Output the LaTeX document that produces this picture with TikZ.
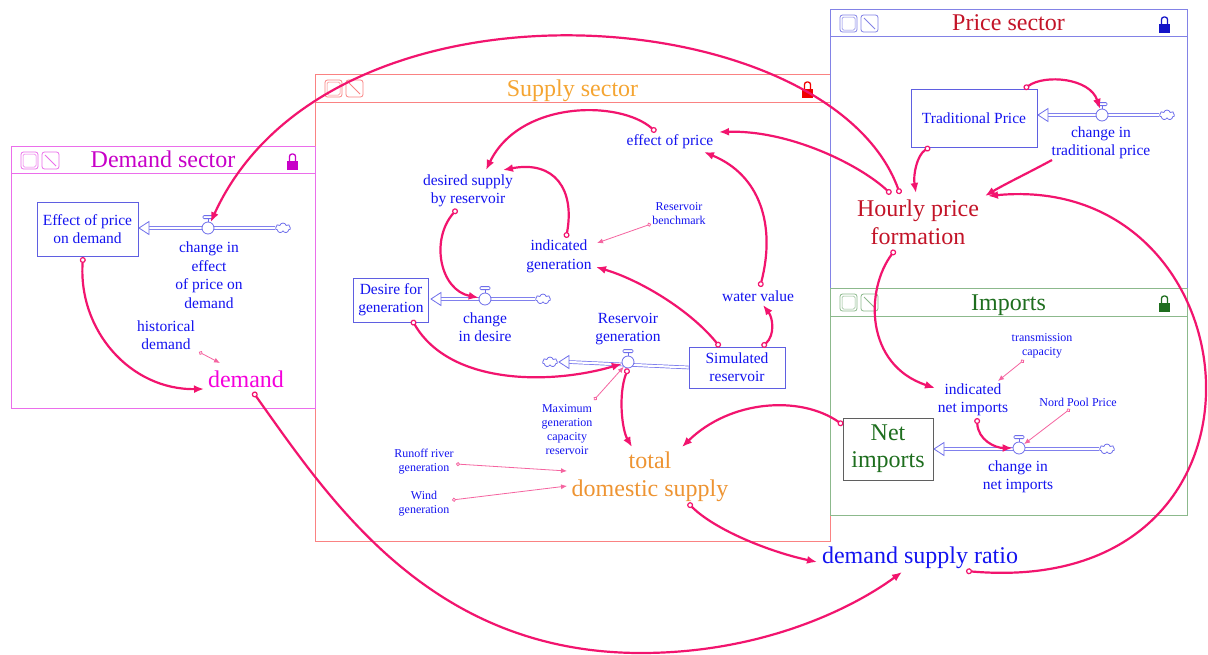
\documentclass[tikz,border=0pt]{standalone}
\usepackage{fontspec}
\setmainfont{Liberation Serif}
\usetikzlibrary{arrows.meta,shapes.symbols}
\definecolor{pinkc}{RGB}{242,20,110}
\definecolor{pinklt}{RGB}{245,100,160}
\definecolor{bluec}{RGB}{20,20,240}
\definecolor{pipec}{RGB}{110,110,235}
\definecolor{boxc}{RGB}{95,95,225}
\definecolor{demfr}{RGB}{235,110,235}
\definecolor{demti}{RGB}{200,0,200}
\definecolor{demtx}{RGB}{245,0,220}
\definecolor{supfr}{RGB}{250,130,130}
\definecolor{supti}{RGB}{245,165,50}
\definecolor{supor}{RGB}{238,148,50}
\definecolor{supl}{RGB}{240,0,0}
\definecolor{prifr}{RGB}{130,130,230}
\definecolor{priti}{RGB}{195,20,40}
\definecolor{pril}{RGB}{20,20,200}
\definecolor{impfr}{RGB}{140,185,140}
\definecolor{impti}{RGB}{30,110,30}
\definecolor{nibox}{RGB}{95,95,95}

\newcommand\mysector[9]{%
  \draw[#6, line width=0.9pt, fill=white] (#1,#2) rectangle (#3,#4);
  \draw[#6, line width=0.9pt] (#1,#5) -- (#3,#5);
  \node[text=#7, font=\fontsize{24}{28}\selectfont, inner sep=0pt, anchor=base] at ({(#1+#3)/2},{#5-6}) {#8};
  \draw[#6, line width=0.8pt, rounded corners=2.5pt] ({#1+10},{#2+6}) rectangle ++(17,17);
  \draw[#6, line width=0.5pt, rounded corners=1.5pt] ({#1+12},{#2+8}) rectangle ++(13,13);
  \draw[#6, line width=0.8pt, rounded corners=2.5pt] ({#1+31},{#2+6}) rectangle ++(17,17);
  \draw[#6, line width=0.8pt] ({#1+34},{#2+9}) -- ++(11,11);
  \fill[#9] ({#3-28},{#2+15}) rectangle ++(11,9);
  \draw[#9, line width=1.3pt, rounded corners=2.5pt] ({#3-25.5},{#2+15}) -- ++(0,-7) -- ++(6,0) -- ++(0,7);
}
\newcommand\valvehandle[1]{%
  \draw[pipec, line width=0.8pt] (#1.north) -- ++(0,-3);
  \draw[pipec, line width=0.8pt, fill=white, rounded corners=1pt] ([xshift=-5pt,yshift=3pt]#1.north) rectangle ([xshift=5pt,yshift=6pt]#1.north);
}
\newcommand\pipetip[1]{%
  \draw[pipec, line width=0.8pt, fill=white] (#1) -- ++(10,-6.5) -- ++(0,13) -- cycle;
}

\begin{document}
\begin{tikzpicture}[x=1pt,y=-1pt,
  conn/.style={draw=pinkc, line width=2.2pt, {Circle[length=6pt,width=6pt,fill=white,line width=1.2pt]}-{Latex[length=10pt,width=8pt]}},
  conna/.style={draw=pinkc, line width=2.2pt, -{Latex[length=10pt,width=8pt]}},
  thinc/.style={draw=pinklt, line width=0.8pt, {Circle[open,length=4pt,width=4pt]}-{Latex[length=6pt,width=5pt]}},
  lab/.style={text=bluec, font=\fontsize{15.5}{18.5}\selectfont, align=center, inner sep=0pt},
  small/.style={text=bluec, font=\fontsize{12}{14}\selectfont, align=center, inner sep=0pt},
  big/.style={font=\fontsize{24}{28.5}\selectfont, align=center, inner sep=0pt},
  stock/.style={draw=boxc, line width=0.8pt, fill=white, text=bluec, font=\fontsize{15.5}{18}\selectfont, align=center, inner sep=2pt},
  valve/.style={circle, draw=pipec, fill=white, line width=0.8pt, minimum size=12pt, inner sep=0pt},
  cloudn/.style={cloud, cloud puffs=7, draw=pipec, fill=white, line width=0.8pt, minimum width=15pt, minimum height=10pt, inner sep=0pt},
  pipe/.style={draw=pipec, line width=0.7pt, double=white, double distance=2.2pt}
]
\useasboundingbox (0,0) rectangle (1208,654);
\fill[white] (0,0) rectangle (1208,654);

% sectors
\mysector{315}{74}{830}{541}{102}{supfr}{supti}{Supply sector}{supl}
\mysector{11}{146}{315}{408}{173}{demfr}{demti}{Demand sector}{demti}
\mysector{830}{9}{1187}{288}{36}{prifr}{priti}{Price sector}{pril}
\mysector{830}{288}{1187}{515}{316}{impfr}{impti}{Imports}{impti}

% ---------- Demand sector ----------
\node[stock, minimum width=101pt, minimum height=54pt] (epd) at (87.5,229) {Effect of price\\on demand};
\node[cloudn] (cepd) at (283,228) {};
\draw[pipe] (cepd.west) -- (149,228);
\coordinate (tepd) at (139,228);
\pipetip{tepd}
\node[valve] (vepd) at (208,228) {};
\valvehandle{vepd}
\node[lab] (lepd) at (209,275) {change in\\effect\\of price on\\demand};
\node[lab] (hist) at (166,335) {historical\\demand};
\node[big, text=demtx] (dem) at (246,379) {demand};

% ---------- Supply sector ----------
\node[lab] (eop) at (670,142) {effect of price};
\node[lab] (dsr) at (468,191) {desired supply\\by reservoir};
\node[small] (rb) at (679,214) {Reservoir\\benchmark};
\node[lab] (ig) at (559,256.5) {indicated\\generation};
\node[lab] (wv) at (758,296) {water value};
\node[stock, minimum width=75pt, minimum height=44pt] (dfg) at (391,300) {Desire for\\generation};
\node[cloudn] (cdfg) at (543,299) {};
\draw[pipe] (cdfg.west) -- (441,299);
\coordinate (tdfg) at (431,299);
\pipetip{tdfg}
\node[valve] (vdfg) at (485,299) {};
\valvehandle{vdfg}
\node[lab] (lcd) at (485,327) {change\\in desire};
\node[lab] (lrg) at (628,329) {Reservoir\\generation};
\node[stock, minimum width=96pt, minimum height=41pt] (sr) at (737,367.5) {Simulated\\reservoir};
\node[cloudn] (crg) at (550,362) {};
\draw[pipe] (sr.west) -- (569,362);
\coordinate (trg) at (559,362);
\pipetip{trg}
\node[valve] (vrg) at (628,362) {};
\valvehandle{vrg}
\node[small] (mgc) at (567,429.5) {Maximum\\generation\\capacity\\reservoir};
\node[big, text=supor] (tds) at (650,477) {total\\domestic supply};
\node[small] (rrg) at (424,462) {Runoff river\\generation};
\node[small] (wg) at (424,504) {Wind\\generation};

% ---------- Price sector ----------
\node[stock, minimum width=126pt, minimum height=58pt] (tp) at (974,118) {Traditional Price};
\node[cloudn] (ctp) at (1167,115) {};
\draw[pipe] (ctp.west) -- (1048,115);
\coordinate (ttp) at (1038,115);
\pipetip{ttp}
\node[valve] (vtp) at (1102,115) {};
\valvehandle{vtp}
\node[lab] (lctp) at (1101,143) {change in\\traditional price};
\node[big, text=priti] (hpf) at (918,222.5) {Hourly price\\formation};

% ---------- Imports ----------
\node[small] (tc) at (1042,346) {transmission\\capacity};
\node[lab] (inm) at (973,400) {indicated\\net imports};
\node[small] (npp) at (1078,402) {Nord Pool Price};
\node[stock, draw=nibox, text=impti, font=\fontsize{24}{27}\selectfont, minimum width=90pt, minimum height=62pt] (ni) at (888,449) {Net\\imports};
\node[cloudn] (cni) at (1107,449) {};
\draw[pipe] (cni.west) -- (944,449);
\coordinate (tni) at (934,449);
\pipetip{tni}
\node[valve] (vni) at (1019,448) {};
\valvehandle{vni}
\node[lab] (lcni) at (1018,477) {change in\\net imports};

\node[big, text=bluec] (dsrt) at (920,558) {demand supply ratio};

% ---------- connector end points ----------
\coordinate (hpf-a) at (900,194);
\coordinate (hpf-b) at (891,194);
\coordinate (hpf-c) at (916,193);
\coordinate (hpf-d) at (985,196);
\coordinate (hpf-e) at (988,196);
\coordinate (hpf-f) at (895,250);
\coordinate (eop-a) at (719,132);
\coordinate (eop-b) at (656,132);
\coordinate (eop-c) at (704,152);
\coordinate (tp-a) at (930,147);
\coordinate (tp-b) at (1024,89);
\coordinate (lctp-a) at (1052,160);
\coordinate (inm-a) at (935,388);
\coordinate (inm-b) at (977,418);
\coordinate (inm-c) at (998,381);
\coordinate (tc-a) at (1024,360);
\coordinate (npp-a) at (1070,409);
\coordinate (dsrt-a) at (966,571);
\coordinate (dsrt-b) at (817,562);
\coordinate (dsrt-c) at (902,572);
\coordinate (ni-a) at (843,425);
\coordinate (tds-a) at (682,447);
\coordinate (tds-b) at (688,503);
\coordinate (tds-c) at (632,447);
\coordinate (tds-d) at (567,471);
\coordinate (tds-e) at (567,486);
\coordinate (dem-a) at (253,392);
\coordinate (dem-b) at (204,389);
\coordinate (dem-c) at (220,363);
\coordinate (dsr-a) at (486,170);
\coordinate (dsr-b) at (503,170);
\coordinate (dsr-c) at (457,209);
\coordinate (ig-a) at (566,238);
\coordinate (ig-b) at (597,243);
\coordinate (ig-c) at (596,267);
\coordinate (rb-a) at (651,224);
\coordinate (sr-a) at (720,347);
\coordinate (sr-b) at (762,347);
\coordinate (wv-a) at (763,305);
\coordinate (wv-b) at (760,287);
\coordinate (dfg-a) at (412,320);
\coordinate (mgc-a) at (594,400);
\coordinate (rrg-a) at (456,464);
\coordinate (wg-a) at (452,500);
\coordinate (hist-a) at (199,352);
\coordinate (epd-a) at (83,257);

% ---------- connectors ----------
\draw[conn] (hpf-a) .. controls (830,0) and (330,-40) .. (vepd);
\draw[conn] (hpf-b) .. controls (860,165) and (790,130) .. (eop-a);
\draw[conn] (tp-a) .. controls (917,155) and (913,175) .. (hpf-c);
\draw[conna] (lctp-a) .. controls (1030,172) and (1005,184) .. (hpf-d);
\draw[conn] (tp-b) .. controls (1045,74) and (1090,78) .. (vtp);
\draw[conn] (hpf-f) .. controls (865,290) and (865,365) .. (inm-a);
\draw[conn] (dsrt-a) .. controls (1300,600) and (1260,170) .. (hpf-e);
\draw[conn] (ni-a) .. controls (800,395) and (730,400) .. (tds-a);
\draw[conn] (inm-b) .. controls (978,440) and (995,448) .. (vni);
\draw[thinc] (tc-a) -- (inm-c);
\draw[thinc] (npp-a) -- (vni);
\draw[conn] (tds-b) .. controls (715,530) and (770,552) .. (dsrt-b);
\draw[conn] (dem-a) .. controls (330,500) and (430,653) .. (641,653) .. controls (760,653) and (850,610) .. (dsrt-c);
\draw[conn] (eop-b) .. controls (620,100) and (520,100) .. (dsr-a);
\draw[conn] (ig-a) .. controls (575,190) and (555,160) .. (dsr-b);
\draw[conn] (dsr-c) .. controls (430,240) and (440,290) .. (vdfg);
\draw[thinc] (rb-a) -- (ig-b);
\draw[conn] (sr-a) .. controls (690,310) and (640,280) .. (ig-c);
\draw[conn] (sr-b) .. controls (775,335) and (773,318) .. (wv-a);
\draw[conn] (wv-b) .. controls (776,225) and (760,175) .. (eop-c);
\draw[conn] (dfg-a) .. controls (450,385) and (550,385) .. (vrg);
\draw[conn] (vrg.south) .. controls (618,395) and (622,430) .. (tds-c);
\draw[thinc] (mgc-a) -- (vrg);
\draw[thinc] (rrg-a) -- (tds-d);
\draw[thinc] (wg-a) -- (tds-e);
\draw[thinc] (hist-a) -- (dem-c);
\draw[conn] (epd-a) .. controls (78,330) and (130,390) .. (dem-b);
\end{tikzpicture}
\end{document}
